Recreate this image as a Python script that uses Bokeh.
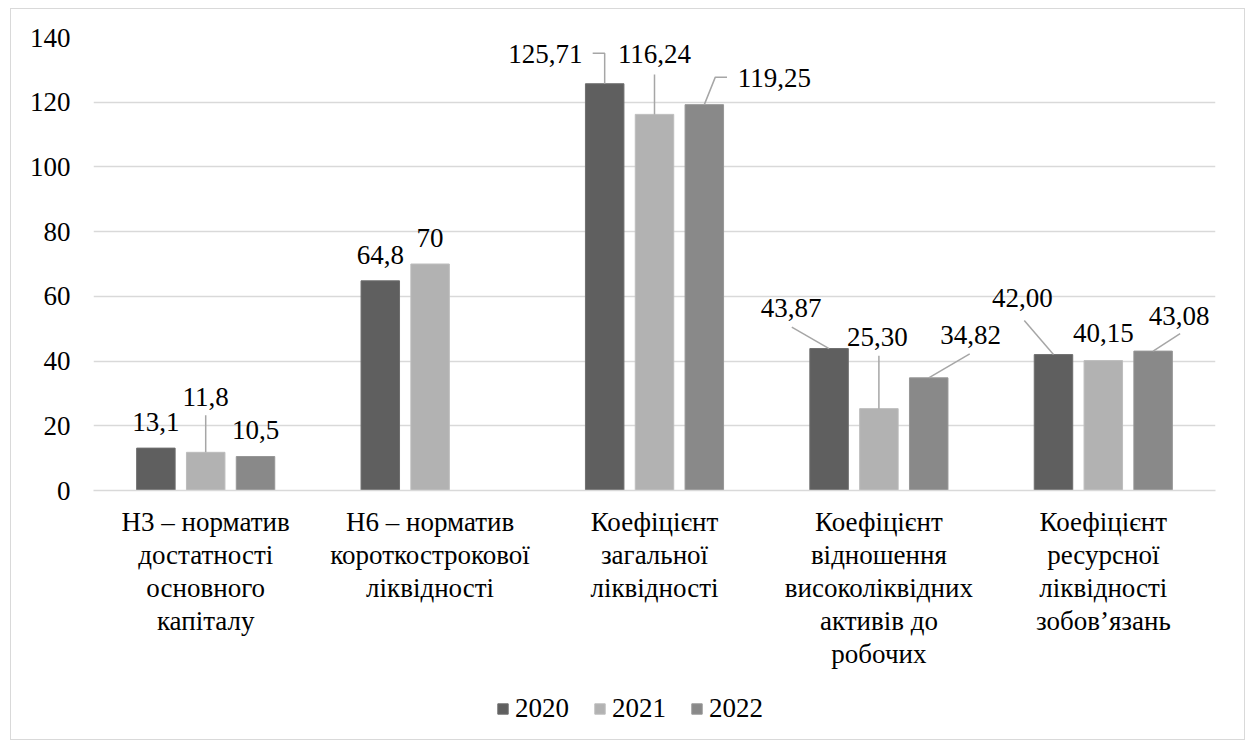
import numpy as np
from bokeh.plotting import figure
from bokeh.layouts import column
from bokeh.models import (Range1d, FixedTicker, Legend, LegendItem, ColumnDataSource)
from bokeh.embed import file_html
from bokeh.resources import INLINE
from bokeh.core.properties import value

# ---------------- data ----------------
categories = [
    "Н3 – норматив\nдостатності\nосновного\nкапіталу",
    "Н6 – норматив\nкороткострокової\nліквідності",
    "Коефіцієнт\nзагальної\nліквідності",
    "Коефіцієнт\nвідношення\nвисоколіквідних\nактивів до\nробочих",
    "Коефіцієнт\nресурсної\nліквідності\nзобов’язань",
]
years = ["2020", "2021", "2022"]
v2020 = [13.1, 64.8, 125.71, 43.87, 42.00]
v2021 = [11.8, 70.0, 116.24, 25.30, 40.15]
v2022 = [10.5, None, 119.25, 34.82, 43.08]
lab2020 = ["13,1", "64,8", "125,71", "43,87", "42,00"]
lab2021 = ["11,8", "70", "116,24", "25,30", "40,15"]
lab2022 = ["10,5", "", "119,25", "34,82", "43,08"]
y_ticks = [0, 20, 40, 60, 80, 100, 120, 140]

# ---------------- styling / layout ----------------
colors = ["#5f5f5f", "#b2b2b2", "#898989"]
edges = ["#6e6e6e", "#bdbdbd", "#979797"]
FONT = "Liberation Serif"
FS = "27px"
W, H = 1233, 670
LEG_H = 60
ML, MR, MT = 82, 29, 28
MB = H - MT - 453
FRAME_W = W - ML - MR
FRAME_H = H - MT - MB
Y_MAX = 140
PX_X = FRAME_W / len(categories)
PX_Y = FRAME_H / Y_MAX
BAR_W = 0.1715
BAR_STEP = 0.222

# label offsets from bar-top centre (screen px, y down)
lab_dx = [[0, 0, -59.4, -38, -31], [0, 0, 0, -1.5, 0], [0, 0, 70, 42, 26]]
lab_dy = [[-26, -26, -29.3, -41, -57], [-55, -26, -60, -72, -27.6], [-27, 0, -27, -43, -35]]
# leader lines: (series, category) -> polyline offsets in px
leaders = {
    (1, 0): [(0, 0), (0, -37)],
    (0, 2): [(0, 0), (0, -30.6), (-12, -30.6)],
    (1, 2): [(0, 0), (0, -40)],
    (2, 2): [(0, 0), (11, -27.5), (22.7, -27.5)],
    (0, 3): [(0, 0), (-37.3, -21.4)],
    (1, 3): [(0, 0), (0, -53)],
    (2, 3): [(0, 0), (41, -24)],
    (0, 4): [(0, 0), (-29.2, -34)],
    (2, 4): [(0, 0), (27, -17.4)],
}

p = figure(width=W, height=H, output_backend="svg", toolbar_location=None,
           x_range=Range1d(0, len(categories)), y_range=Range1d(0, Y_MAX),
           min_border_left=ML, min_border_right=MR, min_border_top=MT,
           min_border_bottom=MB)
p.outline_line_color = None
p.background_fill_color = "white"
p.border_fill_color = "white"

series = [v2020, v2021, v2022]
labels = [lab2020, lab2021, lab2022]
for j, (vals, labs) in enumerate(zip(series, labels)):
    xs, tops, txt, dx, dy = [], [], [], [], []
    for i, v in enumerate(vals):
        if v is None:
            continue
        x = i + 0.5 + (j - 1) * BAR_STEP
        xs.append(x); tops.append(v); txt.append(labs[i])
        dx.append(lab_dx[j][i]); dy.append(lab_dy[j][i])
    src = ColumnDataSource(dict(x=xs, top=tops, text=txt, dx=dx, dy=dy))
    p.vbar(x="x", top="top", width=BAR_W, source=src, fill_color=colors[j],
           line_color=edges[j], line_width=1)
    p.text(x="x", y="top", text="text", x_offset="dx", y_offset="dy", source=src,
           text_font=value(FONT), text_font_size=FS, text_color="#000000",
           text_align="center", text_baseline="middle")

# leader lines
lx, ly = [], []
for (j, i), pts in leaders.items():
    x0 = i + 0.5 + (j - 1) * BAR_STEP
    y0 = series[j][i]
    lx.append([x0 + ddx / PX_X for ddx, ddy in pts])
    ly.append([y0 - ddy / PX_Y for ddx, ddy in pts])
p.multi_line(lx, ly, line_color="#a6a6a6", line_width=1.5)

# axes
p.xgrid.visible = False
p.ygrid.grid_line_color = "#d9d9d9"
p.ygrid.grid_line_width = 1.5
p.ygrid.ticker = FixedTicker(ticks=y_ticks)

p.yaxis.ticker = FixedTicker(ticks=y_ticks)
p.yaxis.axis_line_color = None
p.yaxis.major_tick_line_color = None
p.yaxis.minor_tick_line_color = None
p.yaxis.major_label_text_font = FONT
p.yaxis.major_label_text_font_size = FS
p.yaxis.major_label_text_color = "#000000"
p.yaxis.major_label_standoff = 17

centers = [i + 0.5 for i in range(len(categories))]
p.xaxis.ticker = FixedTicker(ticks=centers)
p.xaxis.major_label_overrides = {c: lab for c, lab in zip(centers, categories)}
p.xaxis.axis_line_color = "#d9d9d9"
p.xaxis.axis_line_width = 1.5
p.xaxis.major_tick_line_color = None
p.xaxis.minor_tick_line_color = None
p.xaxis.major_label_text_font = FONT
p.xaxis.major_label_text_font_size = FS
p.xaxis.major_label_text_color = "#000000"
p.xaxis.major_label_text_line_height = 1.1
p.xaxis.major_label_standoff = 10

# legend in its own strip below the chart (swatch renderers lie outside the strip's view)
pl = figure(width=W, height=LEG_H, output_backend="svg", toolbar_location=None,
            x_range=Range1d(0, 1), y_range=Range1d(0, 1), min_border=0)
pl.axis.visible = False
pl.grid.visible = False
pl.outline_line_color = None
pl.background_fill_color = "white"
pl.border_fill_color = "white"
leg_rs = [pl.vbar(x=[-5], top=[-5], bottom=[-6], width=0.1, fill_color=c, line_color=e)
          for c, e in zip(colors, edges)]
legend = Legend(items=[LegendItem(label=y, renderers=[r]) for y, r in zip(years, leg_rs)],
                orientation="horizontal", location=(403, 15),
                glyph_width=13, glyph_height=13, label_standoff=6, spacing=24,
                label_text_font=FONT, label_text_font_size=FS, label_text_color="#000000",
                border_line_color=None, background_fill_alpha=0, padding=0, margin=0)
pl.add_layout(legend, "center")

layout = column(p, pl, spacing=0,
                styles={"margin-left": "10px", "margin-top": "8px",
                        "border": "1px solid #d9d9d9"})

open("out.html", "w").write(file_html(layout, INLINE))
